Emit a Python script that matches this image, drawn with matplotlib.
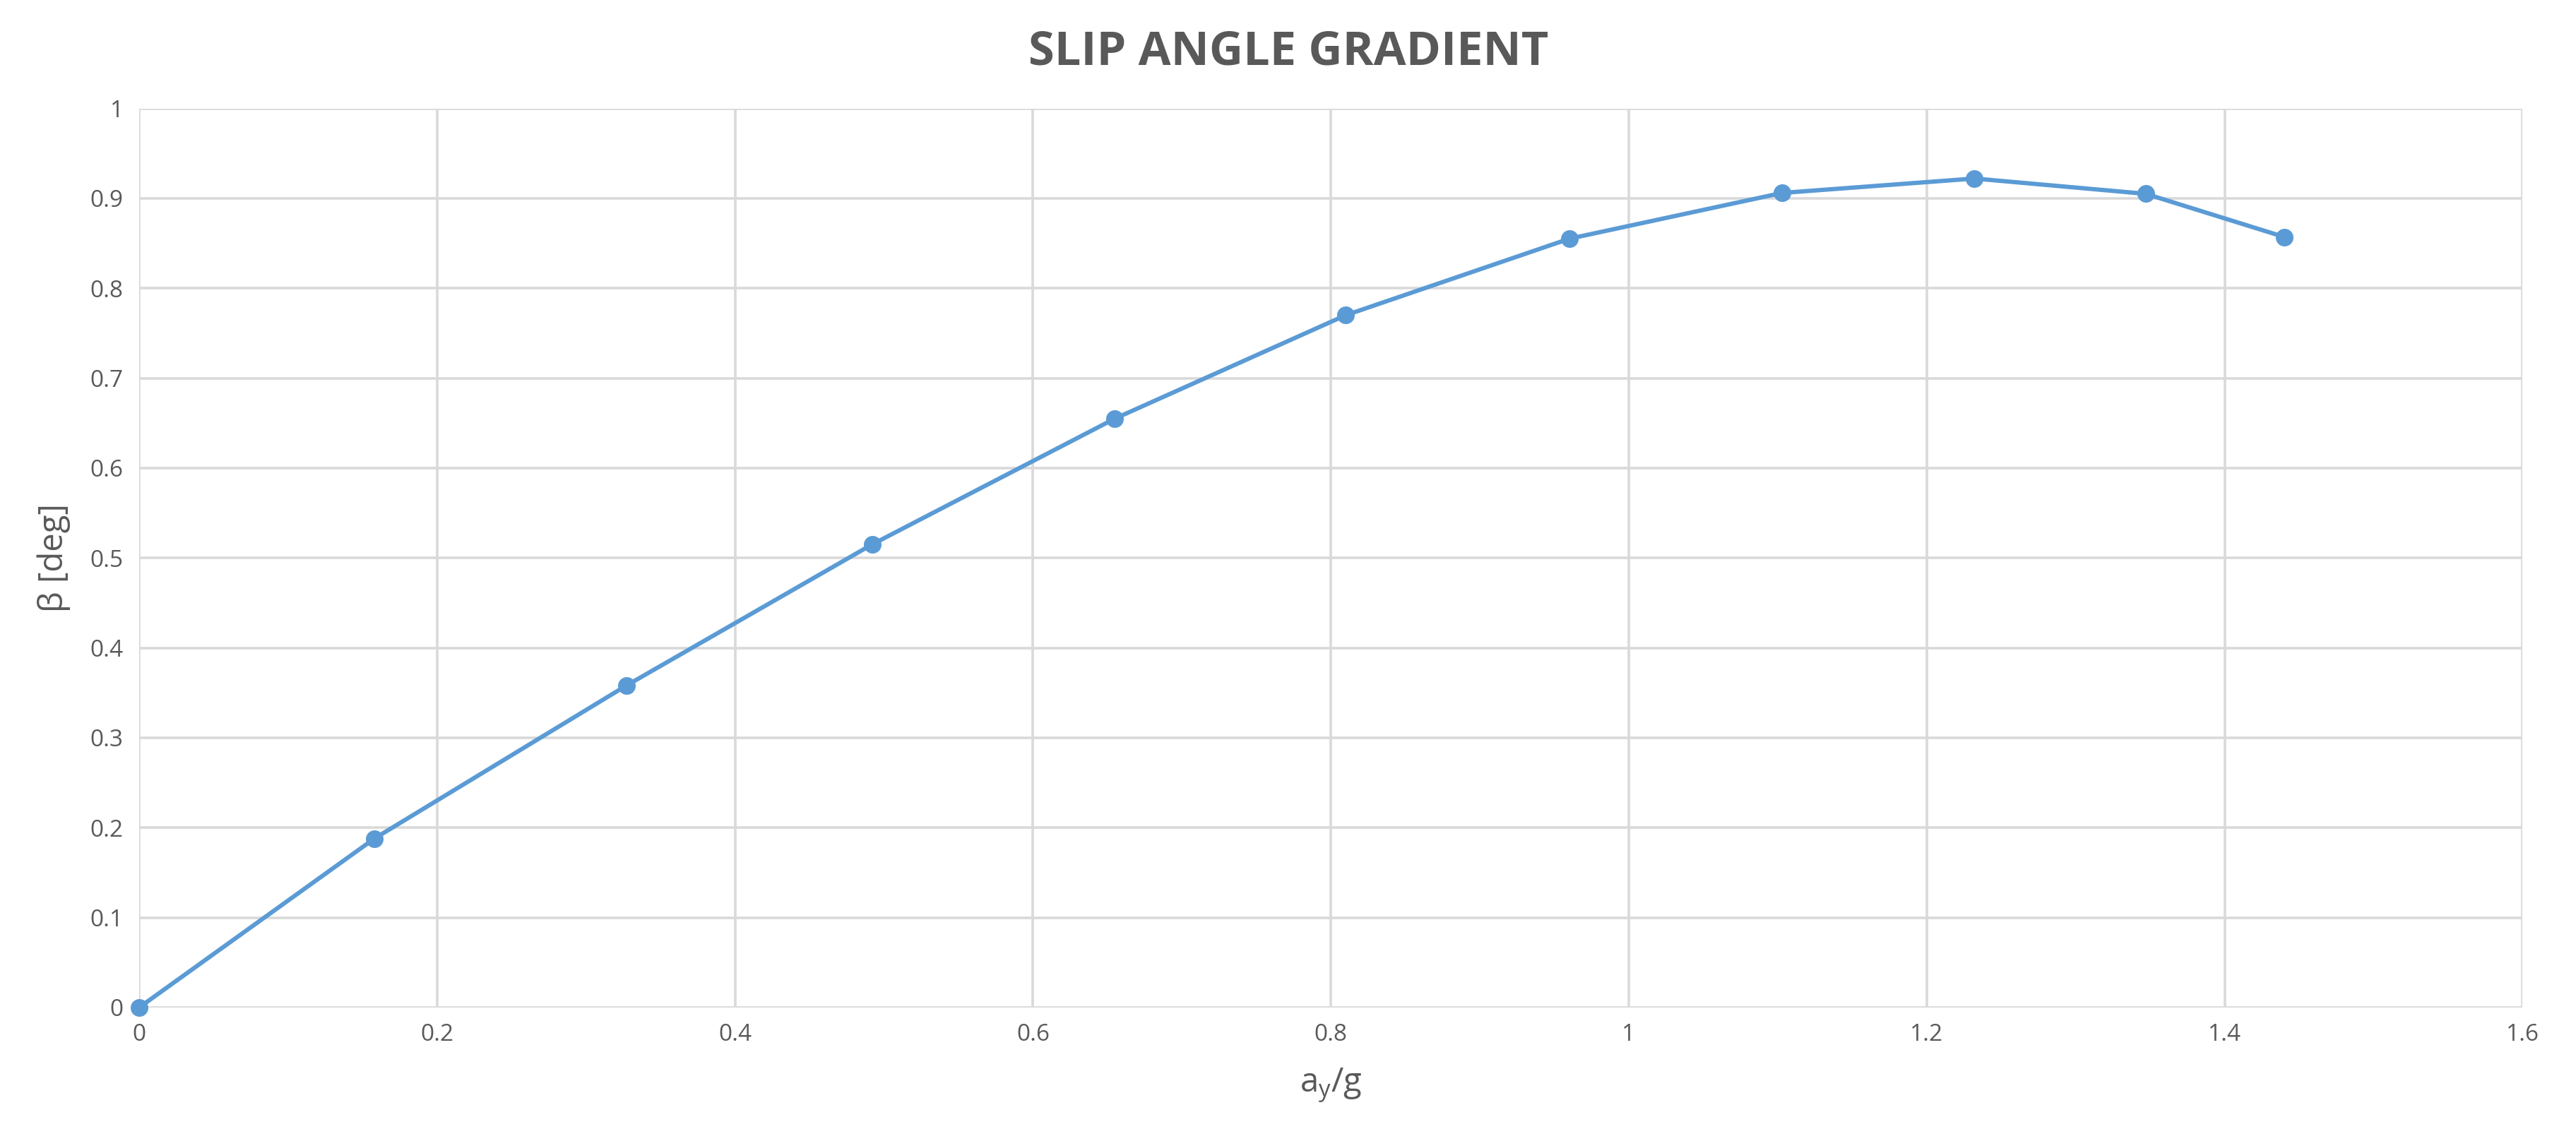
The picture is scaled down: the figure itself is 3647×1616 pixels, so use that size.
import matplotlib
matplotlib.use("Agg")
import matplotlib.pyplot as plt

# données
ay_g = [0, 0.158, 0.327, 0.492, 0.655, 0.81, 0.96, 1.103, 1.232, 1.347, 1.44]
beta = [0, 0.188, 0.358, 0.515, 0.655, 0.77, 0.855, 0.906, 0.922, 0.905, 0.857]

x_ticks = [0, 0.2, 0.4, 0.6, 0.8, 1, 1.2, 1.4, 1.6]
y_ticks = [0, 0.1, 0.2, 0.3, 0.4, 0.5, 0.6, 0.7, 0.8, 0.9, 1]

plt.rcParams['font.family'] = ['Open Sans', 'DejaVu Sans']

fig = plt.figure(figsize=(18.24, 8.08), dpi=200)
ax = fig.add_axes([0.054, 0.117, 0.925, 0.788])

ax.plot(ay_g, beta, color="#5b9bd5", linewidth=2.2, marker="o", markersize=8, clip_on=False)

ax.set_xlim(0, 1.6)
ax.set_ylim(0, 1)
ax.set_xticks(x_ticks)
ax.set_yticks(y_ticks)
ax.set_xticklabels([f"{t:g}" for t in x_ticks])
ax.set_yticklabels([f"{t:g}" for t in y_ticks])
ax.grid(True, color="#d9d9d9", linewidth=1.3)
ax.set_axisbelow(True)
for s in ax.spines.values():
    s.set_visible(False)
ax.tick_params(length=0, labelsize=12, colors="#595959", pad=8)

ax.set_xlabel("a$_\\mathregular{y}$/g", fontsize=17, color="#595959", labelpad=10)
ax.set_ylabel("β [deg]", fontsize=17, color="#595959", labelpad=10)
fig.suptitle("SLIP ANGLE GRADIENT", fontsize=24, fontweight="bold", color="#595959", y=0.975)

fig.savefig("out.png")
